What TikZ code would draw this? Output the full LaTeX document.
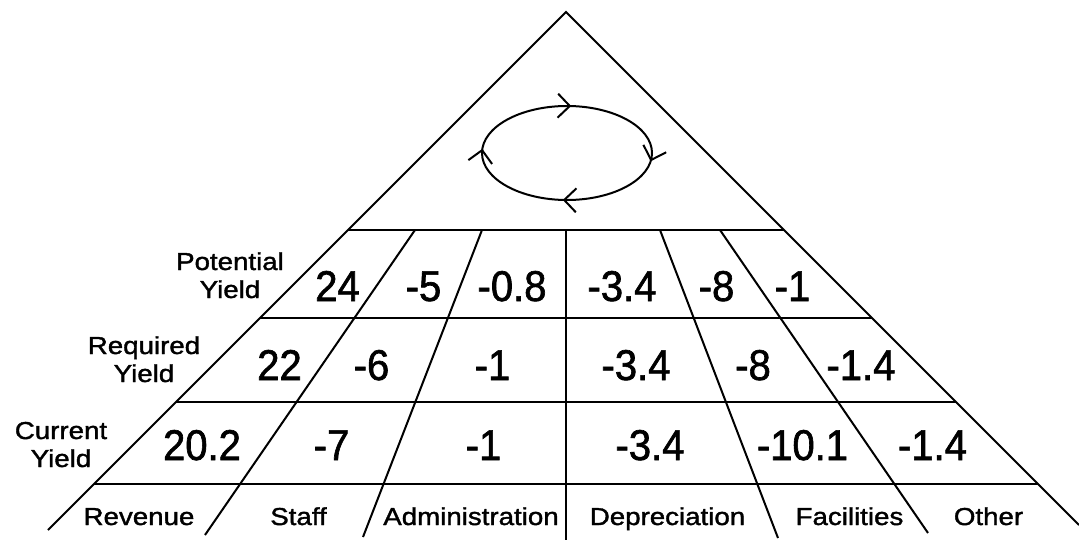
\documentclass[tikz,border=0pt]{standalone}
\usepackage{fontspec}
\setmainfont{Liberation Sans}
\newfontfamily\numfont[FakeStretch=0.93,FakeBold=1.5]{Liberation Sans}
\newfontfamily\labfont[FakeStretch=1.13,FakeBold=1.5]{Liberation Sans}
\usetikzlibrary{arrows.meta,decorations.markings}
\tikzset{chev/.tip={Straight Barb[length=12pt,width=24pt,line width=2pt]}}
\begin{document}
\begin{tikzpicture}[x=1pt,y=-1pt,
  rule/.style={line width=2pt},
  num/.style={anchor=base, inner sep=0pt, font=\numfont\fontsize{43}{43}\selectfont},
  lab/.style={anchor=base, inner sep=0pt, font=\labfont\fontsize{24.5}{28}\selectfont},
  ylab/.style={anchor=base, inner sep=0pt, align=center, font=\labfont\fontsize{24.5}{28}\selectfont},
  loop/.style={rule, postaction={decorate}, decoration={markings,
    mark=at position 0.02 with {\arrow{chev}},
    mark=at position 0.26 with {\arrow{chev}},
    mark=at position 0.51 with {\arrow{chev}},
    mark=at position 0.76 with {\arrow{chev}}}}
]
\useasboundingbox (0,0) rectangle (1079,540);

% outline of the pyramid
\coordinate (A)  at (566,12);
\coordinate (BL) at (48,530);
\coordinate (BR) at (1079,525);
\draw[rule] (BL) -- (A) -- (BR);

% row separators
\coordinate (L0) at (348,230); \coordinate (R0) at (784,230);
\coordinate (L1) at (260,318); \coordinate (R1) at (872,318);
\coordinate (L2) at (176,402); \coordinate (R2) at (956,402);
\coordinate (L3) at (94,484);  \coordinate (R3) at (1038,484);
\foreach \r in {0,1,2,3} \draw[rule] (L\r) -- (R\r);

% column separators
\coordinate (c1t) at (415,230); \coordinate (c1b) at (205,535);
\coordinate (c2t) at (482,230); \coordinate (c2b) at (363,537);
\coordinate (c3t) at (566,230); \coordinate (c3b) at (566,541);
\coordinate (c4t) at (660,230); \coordinate (c4b) at (778,538);
\coordinate (c5t) at (720,230); \coordinate (c5b) at (928,533);
\foreach \c in {1,...,5} \draw[rule] (c\c t) -- (c\c b);

% the cycle at the top
\draw[loop] (567,153) ellipse [x radius=85, y radius=47];

% row labels (anchored on the baseline of the last line)
\node[ylab] (pot) at (230,298) {Potential\\Yield};
\node[ylab] (req) at (144,382) {Required\\Yield};
\node[ylab] (cur) at (61,467) {Current\\Yield};

% potential yield
\node[num] (p1) at (337.5,301) {24};
\node[num] (p2) at (423.5,301) {-5};
\node[num] (p3) at (512,301) {-0.8};
\node[num] (p4) at (622,301) {-3.4};
\node[num] (p5) at (716.5,301) {-8};
\node[num] (p6) at (792.5,301) {-1};

% required yield
\node[num] (q1) at (279.5,380) {22};
\node[num] (q2) at (371.5,380) {-6};
\node[num] (q3) at (492.5,380) {-1};
\node[num] (q4) at (636,380) {-3.4};
\node[num] (q5) at (753,380) {-8};
\node[num] (q6) at (861,380) {-1.4};

% current yield
\node[num] (k1) at (202,460) {20.2};
\node[num] (k2) at (331.5,460) {-7};
\node[num] (k3) at (483.5,460) {-1};
\node[num] (k4) at (650,460) {-3.4};
\node[num] (k5) at (802.5,460) {-10.1};
\node[num] (k6) at (932.5,460) {-1.4};

% column headings
\node[lab] (h1) at (139,525) {Revenue};
\node[lab] (h2) at (298.5,525) {Staff};
\node[lab] (h3) at (471,525) {Administration};
\node[lab] (h4) at (667.5,525) {Depreciation};
\node[lab] (h5) at (849.5,525) {Facilities};
\node[lab] (h6) at (988.5,525) {Other};
\end{tikzpicture}
\end{document}
